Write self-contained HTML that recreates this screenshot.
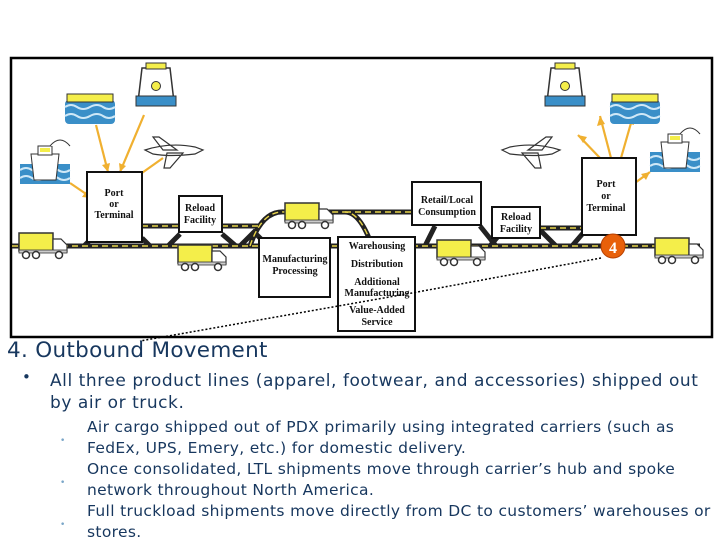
<!DOCTYPE html>
<html><head><meta charset="utf-8"><style>
body{margin:0;width:720px;height:540px;background:#fff;overflow:hidden;position:relative;font-family:"DejaVu Sans","Liberation Sans",sans-serif;color:#17375e}
svg{position:absolute;left:0;top:0}
.t{position:absolute;white-space:nowrap}
.lbl{font-family:"Liberation Serif",serif;font-size:10px;font-weight:bold;fill:#111;text-anchor:middle}
</style></head><body>
<svg width="720" height="540" viewBox="0 0 720 540">
<defs>
<g id="truck"><rect x="0" y="0" width="34" height="18" fill="#f4ee4a" stroke="#333" stroke-width="1.5"/><path d="M34 6h8l6 6v7h-14z" fill="#fff" stroke="#333" stroke-width="1.2"/><rect x="0" y="17" width="48" height="3" fill="#ccc" stroke="#333" stroke-width=".8"/><circle cx="7" cy="22" r="3.5" fill="#fff" stroke="#333" stroke-width="1.5"/><circle cx="17" cy="22" r="3.5" fill="#fff" stroke="#333" stroke-width="1.5"/><circle cx="40" cy="22" r="3.5" fill="#fff" stroke="#333" stroke-width="1.5"/></g>
<g id="ship"><path d="M0 22h50v20h-50z" fill="#3a8fc8"/><path d="M0 28q6-4 12 0t13 0t13 0t12 0M0 36q6-4 12 0t13 0t13 0t12 0" stroke="#cfe8f7" stroke-width="2" fill="none"/><path d="M14 38l-3-26h28l-3 26z" fill="#fff" stroke="#333"/><rect x="18" y="4" width="14" height="9" fill="#fff" stroke="#333"/><rect x="20" y="6" width="10" height="4" fill="#f4ee4a"/><path d="M30 4q10-12 20 0" fill="#fff" stroke="#333"/></g>
<g id="barge"><rect x="0" y="8" width="50" height="24" fill="#3a8fc8" rx="4"/><path d="M0 15q6-4 12 0t13 0t13 0t12 0M0 24q6-4 12 0t13 0t13 0t12 0" stroke="#cfe8f7" stroke-width="2" fill="none"/><rect x="2" y="2" width="46" height="8" fill="#f4ee4a" stroke="#333"/></g>
<g id="train"><path d="M4 36l4-34h28l4 34z" fill="#fff" stroke="#333" stroke-width="1.5"/><rect x="12" y="-3" width="20" height="6" fill="#f4ee4a" stroke="#333"/><circle cx="22" cy="20" r="4.5" fill="#f4ee4a" stroke="#333"/><path d="M2 30h40v10h-40z" fill="#3a8fc8" stroke="#333"/></g>
<g id="plane"><path d="M0 10q25-8 50-3l8 3-8 4q-25 3-42 0zM18 10l-10-13h6l18 13zM22 13l-3 15h6l13-15z" fill="#fff" stroke="#333" stroke-width="1.2"/></g>
</defs>
<rect x="11" y="58" width="701" height="279" fill="#fff" stroke="#000" stroke-width="2.5"/>
<g stroke="#222" stroke-width="5" fill="none">
<path d="M12 246H700"/><path d="M142 226H180M222 226H260"/><path d="M240 246L254 232L268 246"/>
<path d="M168 246L180 234M222 234L236 246"/>
<path d="M250 246Q262 210 285 212H345Q360 212 372 246"/><path d="M345 212H412"/>
<path d="M425 246L435 226M480 226L496 246"/><path d="M490 246L505 228M540 228H584M540 230L556 246M572 246L584 232"/>
<path d="M84 246L92 238M142 238L150 246"/>
</g>
<g stroke="#e8d44a" stroke-width="1.4" stroke-dasharray="6 4" fill="none">
<path d="M12 246H700"/><path d="M142 226H180M222 226H260"/><path d="M250 246Q262 210 285 212H345Q360 212 372 246"/><path d="M345 212H412"/><path d="M540 228H584"/>
</g>
<g stroke="#f0b030" stroke-width="2.2" fill="none">
<path d="M70 183L92 198"/><path d="M96 125L108 172"/><path d="M144 115L120 172"/><path d="M163 158L132 180"/>
<path d="M600 158L578 135"/><path d="M611 158L600 116"/><path d="M621 158L633 116"/><path d="M628 188L650 172"/>
</g>
<g fill="#f0b030">
<path d="M92 198l-10-1 5-7z"/><path d="M108 172l-6-7 8-2z"/><path d="M120 172l-1-9 7 3z"/><path d="M132 180l4-8 5 6z"/>
<path d="M578 135l9 2-4 6z"/><path d="M600 116l5 8-8 2z"/><path d="M633 116l1 9-7-2z"/><path d="M650 172l-4 8-5-6z"/>
</g>
<g fill="#fff" stroke="#111" stroke-width="2">
<rect x="87" y="172" width="55" height="70"/><rect x="179" y="196" width="43" height="36"/>
<rect x="259" y="238" width="71" height="59"/><rect x="338" y="237" width="77" height="94"/>
<rect x="412" y="182" width="69" height="43"/><rect x="492" y="207" width="48" height="31"/>
<rect x="582" y="158" width="54" height="77"/>
</g>
<text class="lbl" x="114" y="196">Port</text><text class="lbl" x="114" y="207">or</text><text class="lbl" x="114" y="218">Terminal</text>
<text class="lbl" x="200" y="211">Reload</text><text class="lbl" x="200" y="223">Facility</text>
<text class="lbl" x="295" y="262">Manufacturing</text><text class="lbl" x="295" y="274">Processing</text>
<text class="lbl" x="377" y="249">Warehousing</text><text class="lbl" x="377" y="267">Distribution</text><text class="lbl" x="377" y="285">Additional</text><text class="lbl" x="377" y="296">Manufacturing</text><text class="lbl" x="377" y="313">Value-Added</text><text class="lbl" x="377" y="325">Service</text>
<text class="lbl" x="447" y="203">Retail/Local</text><text class="lbl" x="447" y="215">Consumption</text>
<text class="lbl" x="516" y="220">Reload</text><text class="lbl" x="516" y="232">Facility</text>
<text class="lbl" x="606" y="187">Port</text><text class="lbl" x="606" y="199">or</text><text class="lbl" x="606" y="211">Terminal</text>
<use href="#truck" x="19" y="233"/><use href="#truck" x="178" y="245"/><use href="#truck" x="285" y="203"/><use href="#truck" x="437" y="240"/><use href="#truck" x="655" y="238"/>
<use href="#ship" x="20" y="142"/><use href="#barge" x="65" y="92"/><use href="#train" x="134" y="66"/><use href="#plane" x="145" y="140"/>
<use href="#train" x="543" y="66"/><use href="#barge" x="610" y="92"/><use href="#ship" x="650" y="130"/><g transform="translate(560,140) scale(-1,1)"><use href="#plane" x="0" y="0"/></g>
<circle cx="613" cy="246" r="12" fill="#e8600a" stroke="#b84000"/>
<text x="613" y="253" font-family="Liberation Serif,serif" font-size="16" font-weight="bold" fill="#fff" text-anchor="middle">4</text>
<path d="M601 258L412 293L140 341" stroke="#000" stroke-width="1.5" stroke-dasharray="2 2" fill="none"/>
</svg>
<div class="t" style="left:7px;top:338px;font-size:21.5px;letter-spacing:0.3px">4. Outbound Movement</div>
<div class="t" style="left:22px;top:368px;font-size:15px">•</div>
<div class="t" style="left:50px;top:370px;font-size:17px;line-height:22px;letter-spacing:0.55px">All three product lines (apparel, footwear, and accessories) shipped out<br>by air or truck.</div>
<div class="t" style="left:87px;top:417px;font-size:15.5px;line-height:21px;letter-spacing:0.33px">Air cargo shipped out of PDX primarily using integrated carriers (such as<br>FedEx, UPS, Emery, etc.) for domestic delivery.<br>Once consolidated, LTL shipments move through carrier’s hub and spoke<br>network throughout North America.<br>Full truckload shipments move directly from DC to customers’ warehouses or<br>stores.</div>
<div class="t" style="left:60px;top:420px;font-size:9px;color:#7aa6c8;line-height:42px">•<br>•<br>•</div>
</body></html>
